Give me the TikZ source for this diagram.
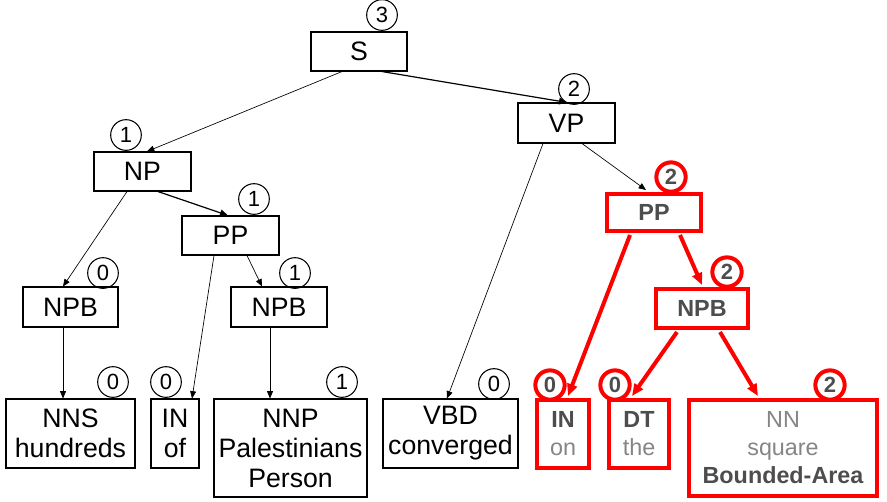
\documentclass[tikz,border=0pt]{standalone}
\usepackage{fontspec}
\setmainfont{Liberation Sans}
\usetikzlibrary{calc,arrows.meta}
\definecolor{labelgray}{HTML}{4D4D4D}
\definecolor{wordgray}{HTML}{858585}
\definecolor{hotred}{HTML}{FF0000}
\begin{document}
\begin{tikzpicture}[x=0.75pt,y=-0.75pt,
  box/.style={draw=black,line width=0.8pt,inner sep=0pt,align=center,
    font=\fontsize{20}{22.5}\selectfont},
  redbox/.style={draw=hotred,line width=3pt,inner sep=0pt,align=center,
    font=\fontsize{17.5}{21}\selectfont},
  count/.style={circle,draw=black,line width=0.8pt,minimum size=23pt,inner sep=0pt,
    font=\fontsize{16.5}{16.5}\selectfont},
  redcount/.style={circle,draw=hotred,line width=3pt,minimum size=22pt,inner sep=0pt,
    text=labelgray,font=\fontsize{16.5}{16.5}\selectfont\bfseries},
  link/.style={-{Triangle[length=5.5pt,width=4.5pt]},line width=0.5pt},
  boldlink/.style={-{Triangle[length=6pt,width=5pt]},line width=0.9pt},
  redlink/.style={-{Triangle[length=9pt,width=7.5pt]},draw=hotred,line width=3pt},
  cat/.style={font=\fontsize{17.5}{21}\selectfont\bfseries,text=labelgray}
]
\useasboundingbox (0,0) rectangle (887,501);

% ---- black part of the tree ----
\node[box,minimum width=72pt,minimum height=29.25pt] (S) at (359,51.5) {S};
\node[box,minimum width=72.75pt,minimum height=30pt] (VP) at (566.5,123) {VP};
\node[box,minimum width=72.75pt,minimum height=29.25pt] (NP) at (142.5,171.5) {NP};
\node[box,minimum width=72.75pt,minimum height=29.25pt] (PP) at (230.5,235.5) {PP};
\node[box,minimum width=71.25pt,minimum height=30pt] (NPBl) at (70.5,307) {NPB};
\node[box,minimum width=72pt,minimum height=30pt] (NPBm) at (279,307) {NPB};
\node[box,minimum width=96.75pt,minimum height=51.75pt] (NNS) at (70.5,433.5) {NNS\\hundreds};
\node[box,minimum width=36pt,minimum height=51.75pt] (IN) at (175,433.5) {IN\\of};
\node[box,minimum width=114.75pt,minimum height=73.5pt] (NNP) at (290.5,448) {NNP\\Palestinians\\Person};
\node[box,minimum width=101.25pt,minimum height=51.75pt] (VBD) at (450.5,433.5) {VBD\\converged};

\node[count] (cS) at (382,15) {3};
\node[count] (cVP) at (574,89) {2};
\node[count] (cNP) at (126,135) {1};
\node[count] (cPP) at (254,199) {1};
\node[count] (cNPBl) at (103,273) {0};
\node[count] (cNPBm) at (295,273) {1};
\node[count] (cNNS) at (113,382) {0};
\node[count] (cIN) at (166,382) {0};
\node[count] (cNNP) at (342,382) {1};
\node[count] (cVBD) at (494,384) {0};

% ---- highlighted subtree ----
\node[redbox,minimum width=70.5pt,minimum height=27.75pt,cat] (rPP) at (654,212.5) {PP};
\node[redbox,minimum width=69pt,minimum height=29.25pt,cat] (rNPB) at (702,308.5) {NPB};
\node[redbox,minimum width=39pt,minimum height=51pt] (rIN) at (563,434)
  {\textcolor{labelgray}{\bfseries IN}\\\textcolor{wordgray}{on}};
\node[redbox,minimum width=45pt,minimum height=51pt] (rDT) at (639,434)
  {\textcolor{labelgray}{\bfseries DT}\\\textcolor{wordgray}{the}};
\node[redbox,minimum width=141pt,minimum height=72pt] (rNN) at (783,448)
  {\textcolor{wordgray}{NN}\\\textcolor{wordgray}{square}\\\textcolor{labelgray}{\bfseries Bounded-Area}};

\node[redcount] (crPP) at (671,177) {2};
\node[redcount] (crNPB) at (727,272) {2};
\node[redcount] (crIN) at (550,385) {0};
\node[redcount] (crDT) at (615,385) {0};
\node[redcount] (crNN) at (830,385) {2};

% ---- connectors ----
\draw[boldlink] ($(S.south)+(23,0)$) -- ($(VP.north)+(0.5,0)$);
\draw[link] ($(S.south)+(-17,0)$) -- ($(NP.north)+(4.5,0)$);
\draw[boldlink] ($(NP.south)+(15.5,0)$) -- ($(PP.north)+(-2.5,0)$);
\draw[link] ($(NP.south)+(-15.5,0)$) -- ($(NPBl.north)+(-7.5,0)$);
\draw[link] ($(PP.south)+(-16.5,0)$) -- ($(IN.north)+(17,0)$);
\draw[link] ($(PP.south)+(16.5,0)$) -- ($(NPBm.north)+(-17,0)$);
\draw[link] ($(NPBl.south)+(-7.5,0)$) -- ($(NNS.north)+(-7.5,0)$);
\draw[link] ($(NPBm.south)+(-9,0)$) -- ($(NNP.north)+(-20.5,0)$);
\draw[link] ($(VP.south)+(-23.5,0)$) -- ($(VBD.north)+(-3.5,0)$);
\draw[link] ($(VP.south)+(15.5,0)$) -- ($(rPP.north)+(-8,-2)$);

\draw[redlink] ($(rPP.south)+(-24,2)$) -- ($(rIN.north)+(5,-2)$);
\draw[redlink] ($(rPP.south)+(26,2)$) -- ($(rNPB.north)+(0,-2)$);
\draw[redlink] ($(rNPB.south)+(-25,2)$) -- ($(rDT.north)+(-7,-2)$);
\draw[redlink] ($(rNPB.south)+(18,2)$) -- ($(rNN.north)+(-25,-2)$);
\end{tikzpicture}
\end{document}
